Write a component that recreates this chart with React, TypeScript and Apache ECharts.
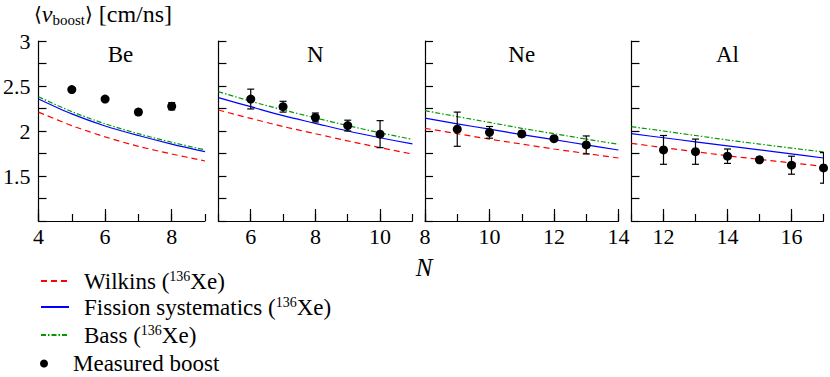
import React, { useEffect, useRef } from 'react';
import * as echarts from 'echarts';

const FONT = '"Liberation Serif", "Times New Roman", Times, serif';

const panelNames = ['Be', 'N', 'Ne', 'Al'];
const xMin = [4, 5, 8, 11];
const xMax = [9, 11, 14, 17];

// Be
const beN = [4, 5, 6, 7, 8, 9];
const beWilkins = [2.21, 2.06, 1.935, 1.83, 1.745, 1.667];
const beFission = [2.356, 2.19, 2.056, 1.95, 1.855, 1.77];
const beBass = [2.38, 2.215, 2.08, 1.97, 1.875, 1.79];
const beMeasN = [5, 6, 7, 8];
const beMeas = [2.46, 2.355, 2.21, 2.275];
const beErr = [0, 0, 0.03, 0.04];

// N
const nN = [5, 6, 7, 8, 9, 10, 11];
const nWilkins = [2.233, 2.14, 2.05, 1.97, 1.89, 1.815, 1.744];
const nFission = [2.37, 2.27, 2.17, 2.085, 2.0, 1.925, 1.856];
const nBass = [2.437, 2.33, 2.235, 2.145, 2.06, 1.98, 1.907];
const nMeasN = [6, 7, 8, 9, 10];
const nMeas = [2.355, 2.27, 2.15, 2.06, 1.965];
const nErr = [0.11, 0.06, 0.05, 0.06, 0.15];

// Ne
const neN = [8, 9, 10, 11, 12, 13, 14];
const neWilkins = [2.03, 1.97, 1.91, 1.855, 1.8, 1.75, 1.7];
const neFission = [2.144, 2.08, 2.02, 1.96, 1.905, 1.845, 1.789];
const neBass = [2.226, 2.16, 2.095, 2.03, 1.97, 1.91, 1.852];
const neMeasN = [9, 10, 11, 12, 13];
const neMeas = [2.02, 1.985, 1.967, 1.915, 1.845];
const neErr = [0.19, 0.065, 0.03, 0.02, 0.1];

// Al
const alN = [11, 12, 13, 14, 15, 16, 17];
const alWilkins = [1.863, 1.815, 1.77, 1.725, 1.685, 1.645, 1.607];
const alFission = [1.97, 1.925, 1.88, 1.835, 1.79, 1.745, 1.7];
const alBass = [2.048, 2.0, 1.95, 1.9, 1.855, 1.81, 1.767];
const alMeasN = [12, 13, 14, 15, 16, 17];
const alMeas = [1.79, 1.77, 1.72, 1.68, 1.62, 1.59];
const alErr = [0.16, 0.14, 0.08, 0.03, 0.1, 0.17];

const yLabelValues = [1.5, 2, 2.5, 3];
const xLabelValues = [[4, 6, 8], [6, 8, 10], [8, 10, 12, 14], [12, 14, 16]];

const seriesNames = ['Wilkins (136Xe)', 'Fission systematics (136Xe)', 'Bass (136Xe)', 'Measured boost'];

const panels = [
  { n: beN, w: beWilkins, f: beFission, b: beBass, mn: beMeasN, m: beMeas, e: beErr },
  { n: nN, w: nWilkins, f: nFission, b: nBass, mn: nMeasN, m: nMeas, e: nErr },
  { n: neN, w: neWilkins, f: neFission, b: neBass, mn: neMeasN, m: neMeas, e: neErr },
  { n: alN, w: alWilkins, f: alFission, b: alBass, mn: alMeasN, m: alMeas, e: alErr },
];

const grids = [
  { left: 36, top: 41, width: 169, height: 180 },
  { left: 218.4, top: 41, width: 194, height: 180 },
  { left: 425, top: 41, width: 193.5, height: 180 },
  { left: 631.5, top: 41, width: 192, height: 180 },
];

const RED = '#ff0000';
const BLUE = '#0000ff';
const GREEN = '#009a00';

function zip(a: number[], b: number[]) {
  return a.map((x, i) => [x, b[i]]);
}

export default function App() {
  const ref = useRef<HTMLDivElement>(null);
  useEffect(() => {
    if (!ref.current) return;
    const chart = echarts.init(ref.current, null, { renderer: 'svg' });

    const xAxes: any[] = [];
    const yAxes: any[] = [];
    const series: any[] = [];
    const graphics: any[] = [];

    panels.forEach((p, i) => {
      xAxes.push({
        type: 'value', gridIndex: i, position: 'bottom', min: xMin[i], max: xMax[i], interval: 1,
        axisLine: { show: true, lineStyle: { color: '#000', width: 1.2 } },
        axisTick: { show: true, inside: true, length: 7, lineStyle: { color: '#000', width: 1.2 } },
        axisLabel: {
          show: true, customValues: xLabelValues[i], margin: 4,
          fontFamily: FONT, fontSize: 22, color: '#000',
        },
        splitLine: { show: false },
      });
      yAxes.push({
        type: 'value', gridIndex: i, min: 1, max: 3, interval: 0.25,
        axisLine: { show: true, lineStyle: { color: '#000', width: 1.2 } },
        axisTick: { show: true, inside: true, length: 8, lineStyle: { color: '#000', width: 1.2 } },
        axisLabel: i === 0
          ? { show: true, customValues: yLabelValues, margin: 8, fontFamily: FONT, fontSize: 22, color: '#000' }
          : { show: false },
        splitLine: { show: false },
      });
      const lineBase = { type: 'line', xAxisIndex: i, yAxisIndex: i, symbol: 'none', smooth: 0.3, z: 2 };
      series.push({ ...lineBase, name: seriesNames[0], data: zip(p.n, p.w), lineStyle: { color: RED, width: 1.2, type: [6, 4] }, itemStyle: { color: RED } });
      series.push({ ...lineBase, name: seriesNames[1], data: zip(p.n, p.f), lineStyle: { color: BLUE, width: 1.2, type: 'solid' }, itemStyle: { color: BLUE } });
      series.push({ ...lineBase, name: seriesNames[2], data: zip(p.n, p.b), lineStyle: { color: GREEN, width: 1.2, type: [5, 2, 1.5, 2] }, itemStyle: { color: GREEN } });
      series.push({
        type: 'custom', name: 'err', xAxisIndex: i, yAxisIndex: i, clip: true, z: 3,
        data: p.mn.map((x, k) => [x, p.m[k], p.e[k]]),
        renderItem: (params: any, api: any) => {
          const x = api.value(0), y = api.value(1), e = api.value(2);
          if (!e) return { type: 'group', children: [] };
          const t = api.coord([x, y + e]);
          const b = api.coord([x, y - e]);
          const st = { stroke: '#000', lineWidth: 1.2 };
          const cw = 3.5;
          return {
            type: 'group',
            children: [
              { type: 'line', shape: { x1: t[0], y1: t[1], x2: b[0], y2: b[1] }, style: st },
              { type: 'line', shape: { x1: t[0] - cw, y1: t[1], x2: t[0] + cw, y2: t[1] }, style: st },
              { type: 'line', shape: { x1: b[0] - cw, y1: b[1], x2: b[0] + cw, y2: b[1] }, style: st },
            ],
          };
        },
      });
      series.push({
        type: 'scatter', name: seriesNames[3], xAxisIndex: i, yAxisIndex: i, z: 4,
        symbol: 'circle', symbolSize: 9, itemStyle: { color: '#000', opacity: 1 },
        data: zip(p.mn, p.m),
      });
      graphics.push({
        type: 'text', x: grids[i].left + grids[i].width / 2, y: 54,
        style: { text: panelNames[i], fontFamily: FONT, fontSize: 23, fill: '#000', align: 'center', verticalAlign: 'middle' },
      });
    });

    // tick-only axes for longer even ticks
    panels.forEach((p, i) => {
      xAxes.push({
        type: 'value', gridIndex: i, position: 'bottom', min: xMin[i], max: xMax[i], interval: 1,
        axisLine: { show: false },
        axisTick: { show: true, inside: true, length: 12, customValues: xLabelValues[i], lineStyle: { color: '#000', width: 1.2 } },
        axisLabel: { show: false },
        splitLine: { show: false },
      });
    });

    graphics.push({
      type: 'text', x: 424, y: 267,
      style: { text: 'N', fontFamily: FONT, fontSize: 25, fontStyle: 'italic', fill: '#000', align: 'center', verticalAlign: 'middle' },
    });

    const legendTops = [264, 290, 318, 347];
    const legends = seriesNames.map((nm, k) => ({
      show: true, orient: 'vertical', left: 35, top: legendTops[k],
      itemWidth: 28, itemHeight: k === 3 ? 8 : 14, itemGap: 0, selectedMode: false,
      data: k === 3 ? [{ name: nm, icon: 'circle' }] : [nm],
      itemStyle: k === 3 ? { color: '#000', opacity: 1 } : { opacity: 0 },
      formatter: (name: string) => '{sp|}' + name.replace('136', '{sup|136}'),
      textStyle: {
        fontFamily: FONT, fontSize: 23, color: '#000',
        rich: {
          sp: { width: 10, fontSize: 23 },
          sup: { fontFamily: FONT, fontSize: 14, color: '#000', padding: [0, 0, 10, 0] },
        },
      },
    }));

    chart.setOption({
      animation: false,
      backgroundColor: '#fff',
      title: {
        text: '{br|⟨}{i|v}{sub|boost}{br|⟩} [cm/ns]',
        left: 34, top: 0, padding: 0,
        textStyle: {
          fontFamily: FONT, fontSize: 24, fontWeight: 'normal', color: '#000',
          rich: {
            br: { fontFamily: '"DejaVu Serif", "DejaVu Sans"', fontSize: 20, color: '#000' },
            i: { fontFamily: FONT, fontSize: 24, fontStyle: 'italic', color: '#000' },
            sub: { fontFamily: FONT, fontSize: 15, color: '#000', padding: [12, 0, 0, 0] },
          },
        },
      },
      grid: grids.map((g) => ({ ...g, containLabel: false })),
      xAxis: xAxes,
      yAxis: yAxes,
      legend: legends,
      series,
      graphic: graphics,
    });
    return () => chart.dispose();
  }, []);
  return <div ref={ref} style={{ position: 'absolute', left: 0, top: 0, width: 830, height: 377 }} />;
}
